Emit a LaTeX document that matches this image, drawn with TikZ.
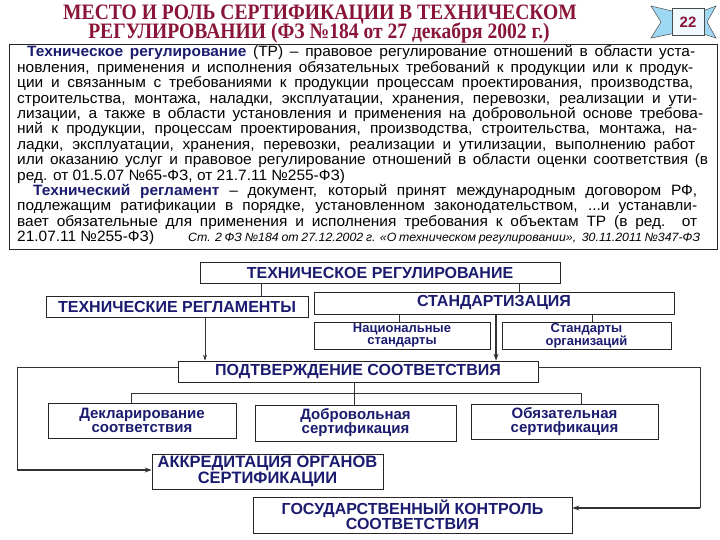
\documentclass[tikz,border=0pt]{standalone}
\usepackage{fontspec}
\setmainfont[FakeStretch=1.03]{Liberation Sans}
\newfontfamily\diagfont{Liberation Sans}
\newfontfamily\titlefont[FakeStretch=0.89]{Liberation Serif}
\usetikzlibrary{arrows.meta}
\definecolor{navy}{HTML}{1B1B6F}
\definecolor{titlered}{HTML}{8A1538}
\definecolor{ribbon}{HTML}{9FD8F2}
\newcommand{\bodyfont}{\fontsize{15}{15}\selectfont}
\newcommand{\jl}[5]{\node[anchor=base west,inner sep=0pt] (#1) at (#2,#3) {\bodyfont\makebox[#4pt][s]{#5}};}
\newcommand{\term}[1]{\textbf{\color{navy}#1}}
\begin{document}
\begin{tikzpicture}[x=1pt,y=-1pt,
  box/.style={draw=black!85, line width=0.7pt, inner sep=0pt, text=navy, align=center},
  bigf/.style={font=\diagfont\bfseries\fontsize{16}{16}\selectfont},
  midf/.style={font=\diagfont\bfseries\fontsize{15}{14}\selectfont},
  smallf/.style={font=\diagfont\bfseries\fontsize{13}{12}\selectfont},
  conn/.style={draw=black!80, line width=0.7pt},
  arr/.style={conn, -{Stealth[length=6pt,width=4pt]}},
  thickarr/.style={draw=black!80, line width=1.6pt, -{Stealth[length=7pt,width=5pt]}}]
\useasboundingbox (0,0) rectangle (720,540);
\fill[white] (0,0) rectangle (720,540);

% title
\node[anchor=base, inner sep=0pt, text=titlered, font=\titlefont\bfseries\fontsize{22}{22}\selectfont] (t1) at (320,19.5) {МЕСТО И РОЛЬ СЕРТИФИКАЦИИ В ТЕХНИЧЕСКОМ};
\node[anchor=base, inner sep=0pt, text=titlered, font=\titlefont\bfseries\fontsize{22}{22}\selectfont] (t2) at (319,39) {РЕГУЛИРОВАНИИ (ФЗ №184 от 27 декабря 2002 г.)};

% badge
\filldraw[fill=ribbon, draw=black!70, line width=0.5pt] (651,6) -- (676,12) -- (676,33) -- (651,38) -- (661,22) -- cycle;
\filldraw[fill=ribbon, draw=black!70, line width=0.5pt] (716,6) -- (700,12) -- (700,33) -- (716,38) -- (707,22) -- cycle;
\filldraw[fill=white!85!ribbon, draw=black!70, line width=0.6pt] (672,8) rectangle (704,35);
\node[inner sep=0pt, text=titlered, font=\diagfont\bfseries\fontsize{15}{15}\selectfont] (num) at (688,22) {22};

% text frame
\draw[line width=0.8pt, black!85] (9,44) rectangle (717,249);
\jl{l1}{27}{57}{668}{\term{Техническое регулирование} (ТР) – правовое регулирование отношений в области уста-}
\jl{l2}{17}{72.4}{676}{новления, применения и исполнения обязательных требований к продукции или к продук-}
\jl{l3}{17}{87.8}{676}{ции и связанным с требованиями к продукции процессам проектирования, производства,}
\jl{l4}{17}{103.2}{680}{строительства, монтажа, наладки, эксплуатации, хранения, перевозки, реализации и ути-}
\jl{l5}{17}{118.6}{686}{лизации, а также в области установления и применения на добровольной основе требова-}
\jl{l6}{17}{134}{680}{ний к продукции, процессам проектирования, производства, строительства, монтажа, на-}
\jl{l7}{17}{149.4}{678}{ладки, эксплуатации, хранения, перевозки, реализации и утилизации, выполнению работ}
\jl{l8}{17}{164.8}{691}{или оказанию услуг и правовое регулирование отношений в области оценки соответствия (в}
\node[anchor=base west,inner sep=0pt, font=\bodyfont] (l9) at (17,180.2) {ред. от 01.5.07 №65-ФЗ, от 21.7.11 №255-ФЗ)};
\jl{l10}{33}{195.6}{664}{\term{Технический регламент} – документ, который принят международным договором РФ,}
\jl{l11}{17}{211}{680}{подлежащим ратификации в порядке, установленном законодательством, ...и устанавли-}
\jl{l12}{17}{226.4}{680}{вает обязательные для применения и исполнения требования к объектам ТР (в ред. от}
\node[anchor=base west,inner sep=0pt, font=\bodyfont] (l13) at (17,241.8) {21.07.11 №255-ФЗ)};
\node[anchor=base west,inner sep=0pt] (src) at (188,241.8) {\fontsize{12}{12}\selectfont\itshape\makebox[512pt][s]{Ст. 2 ФЗ №184 от 27.12.2002 г. «О техническом регулировании», \ 30.11.2011 №347-ФЗ}};

% diagram boxes
\node[box, bigf, minimum width=360pt, minimum height=21pt] (tr) at (380,272.5) {ТЕХНИЧЕСКОЕ РЕГУЛИРОВАНИЕ};
\node[box, bigf, minimum width=262pt, minimum height=21pt] (treg) at (177,306.5) {ТЕХНИЧЕСКИЕ РЕГЛАМЕНТЫ};
\node[box, bigf, minimum width=360pt, minimum height=22pt] (std) at (494,303) {СТАНДАРТИЗАЦИЯ};
\node[box, smallf, minimum width=176pt, minimum height=27pt] (nat) at (402,335.5) {Национальные\\стандарты};
\node[box, smallf, minimum width=169pt, minimum height=27pt] (org) at (586.5,335.5) {Стандарты\\организаций};
\node[box, bigf, minimum width=360pt, minimum height=21pt] (pod) at (358,371.5) {ПОДТВЕРЖДЕНИЕ СООТВЕТСТВИЯ};
\node[box, midf, minimum width=188pt, minimum height=35pt] (decl) at (142,420.5) {Декларирование\\соответствия};
\node[box, midf, minimum width=201pt, minimum height=36pt] (vol) at (355.5,423) {Добровольная\\сертификация};
\node[box, midf, minimum width=187pt, minimum height=35pt] (obl) at (564.5,421.5) {Обязательная\\сертификация};
\node[box, font=\diagfont\bfseries\fontsize{16.5}{13}\selectfont, minimum width=231pt, minimum height=35pt] (akk) at (267.5,471.5) {АККРЕДИТАЦИЯ ОРГАНОВ\\СЕРТИФИКАЦИИ};
\node[box, font=\diagfont\bfseries\fontsize{16}{13.5}\selectfont, minimum width=319pt, minimum height=36pt] (gos) at (412.5,515) {ГОСУДАРСТВЕННЫЙ КОНТРОЛЬ\\СООТВЕТСТВИЯ};

% helper coordinates
\coordinate (cA) at (261,0);
\coordinate (cB) at (519,0);
\coordinate (cC) at (399,0);
\coordinate (cD) at (592,0);
\coordinate (cE) at (496,0);
\coordinate (cF) at (205,0);
\coordinate (cG) at (354,0);
\coordinate (cH) at (131,0);
\coordinate (cI) at (581,0);
\coordinate (cL) at (17,0);
\coordinate (cR) at (700,0);
\coordinate (yT) at (0,393);
\coordinate (yP) at (0,367);
\coordinate (yK) at (0,470);
\coordinate (yG) at (0,508);

% connectors
\draw[conn] (tr.south -| cA) -- (treg.north -| cA);
\draw[conn] (tr.south -| cB) -- (std.north -| cB);
\draw[conn] (std.south -| cC) -- (nat.north -| cC);
\draw[conn] (std.south -| cD) -- (org.north -| cD);
\draw[thickarr] (std.south -| cE) -- (pod.north -| cE);
\draw[arr] (treg.south -| cF) -- (pod.north -| cF);
\draw[conn] (pod.south -| cG) -- (vol.north -| cG);
\draw[conn] (decl.north -| cH) -- (cH |- yT) -- (cI |- yT) -- (obl.north -| cI);
\draw[conn] (pod.west |- yP) -- (cL |- yP) -- (cL |- yK);
\draw[thickarr] (cL |- yK) -- (akk.west |- yK);
\draw[conn] (pod.east |- yP) -- (cR |- yP) -- (cR |- yG);
\draw[thickarr] (cR |- yG) -- (gos.east |- yG);
\end{tikzpicture}
\end{document}
